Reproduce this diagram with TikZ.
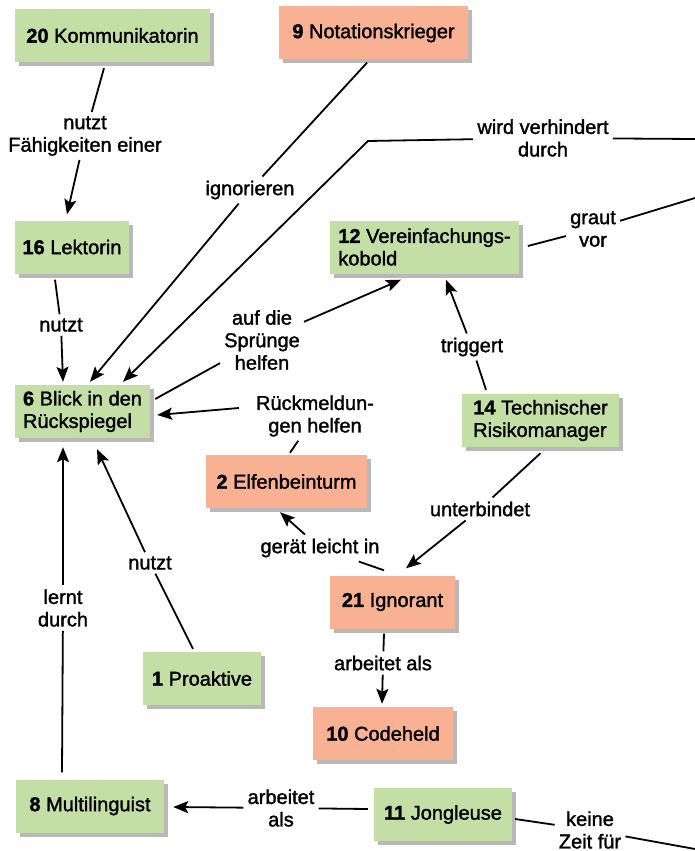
\documentclass[tikz,border=0pt]{standalone}
\usepackage{fontspec}
\setmainfont{Liberation Sans}[FakeBold=1.5]
\usetikzlibrary{arrows.meta,shadows}
\definecolor{cgreen}{RGB}{196,223,166}
\definecolor{csalmon}{RGB}{248,177,146}
\tikzset{
  txt/.style={font=\fontsize{20}{22.5}\selectfont},
  box/.style={txt, minimum height=53pt, inner xsep=8pt, inner ysep=2pt, align=left,
    drop shadow={shadow xshift=4pt,shadow yshift=-4pt,fill=black,opacity=0.28}},
  gbox/.style={box, fill=cgreen},
  sbox/.style={box, fill=csalmon},
  lbl/.style={txt, align=center, inner sep=4pt},
  conn/.style={line width=1.8pt},
  arr/.style={conn, -{Stealth[length=15pt,width=12pt,inset=3pt]}},
}
\begin{document}
\begin{tikzpicture}[x=1pt,y=-1pt]
\useasboundingbox[fill=white] (0,0) rectangle (695,851);
% nodes
\node[gbox, minimum width=195pt] (n20) at (112.5,35.5) {\textbf{20} Kommunikatorin};
\node[sbox, minimum width=189pt] (n9) at (373.5,33) {\textbf{9} Notationskrieger};
\node[gbox, minimum width=114pt] (n16) at (72,247) {\textbf{16} Lektorin};
\node[gbox, minimum width=183pt] (n12) at (424.5,247) {\textbf{12} Vereinfachungs-\\kobold};
\node[gbox, minimum width=135pt] (n6) at (82.5,411.5) {\textbf{6} Blick in den\\Rückspiegel};
\node[sbox, minimum width=161pt] (n2) at (286.5,481.5) {\textbf{2} Elfenbeinturm};
\node[gbox, minimum width=157pt] (n14) at (540.5,420.5) {\textbf{14} Technischer\\Risikomanager};
\node[sbox, minimum width=125pt] (n21) at (392.5,602) {\textbf{21} Ignorant};
\node[gbox, minimum width=118pt] (n1) at (202,678.5) {\textbf{1} Proaktive};
\node[sbox, minimum width=140pt] (n10) at (383,733.5) {\textbf{10} Codeheld};
\node[gbox, minimum width=148pt] (n8) at (90,806) {\textbf{8} Multilinguist};
\node[gbox, minimum width=138pt] (n11) at (443,814.5) {\textbf{11} Jongleuse};
% labels
\node[lbl] (l1) at (85,136) {nutzt\\Fähigkeiten einer};
\node[lbl] (l2) at (61,325) {nutzt};
\node[lbl] (l3) at (250,190) {ignorieren};
\node[lbl] (l4) at (543,138) {wird verhindert\\durch};
\node[lbl] (l5) at (593,229) {graut\\vor};
\node[lbl] (l6) at (262,340) {auf die\\Sprünge\\helfen};
\node[lbl] (l7) at (472,347) {triggert};
\node[lbl] (l8) at (315,416) {Rückmeldun-\\gen helfen};
\node[lbl] (l9) at (320,548) {gerät leicht in};
\node[lbl] (l10) at (480,509) {unterbindet};
\node[lbl] (l11) at (150,563) {nutzt};
\node[lbl] (l12) at (63,608) {lernt\\durch};
\node[lbl] (l13) at (383,663) {arbeitet als};
\node[lbl] (l14) at (281,808) {arbeitet\\als};
\node[lbl] (l15) at (590,830) {keine\\Zeit für};
% free ends
\coordinate (e4) at (695,139);
\coordinate (c4) at (368,141);
\coordinate (e5) at (695,198);
\coordinate (e15) at (695,849);
% connectors
\draw[conn] ([xshift=-8.5pt,yshift=-6pt]n20.south) -- (l1);
\draw[arr] (l1) -- ([xshift=-5pt,yshift=6pt]n16.north);
\draw[conn] ([xshift=-17pt,yshift=-6pt]n16.south) -- (l2);
\draw[arr] (l2) -- ([xshift=-19.5pt,yshift=3pt]n6.north);
\draw[conn] ([xshift=-6.5pt,yshift=-3pt]n9.south) -- (l3);
\draw[arr] (l3) -- ([xshift=7.5pt,yshift=3pt]n6.north);
\draw[conn] (e4) -- (l4);
\draw[arr] (l4) -- (c4) -- ([xshift=40.5pt,yshift=3pt]n6.north);
\draw[conn] (e5) -- (l5);
\draw[conn] (l5) -- ([xshift=9pt,yshift=1pt]n12.east);
\draw[conn] ([xshift=5pt,yshift=12.5pt]n6.east) -- (l6);
\draw[arr] (l6) -- ([xshift=-23.5pt,yshift=-6pt]n12.south);
\draw[conn] ([xshift=-54.5pt,yshift=4pt]n14.north) -- (l7);
\draw[arr] (l7) -- ([xshift=21.5pt,yshift=-6pt]n12.south);
\draw[conn] ([xshift=3.5pt,yshift=2pt]n2.north) -- (l8);
\draw[arr] ([xshift=-13pt,yshift=8pt]l8.west) -- ([xshift=7pt,yshift=-3.5pt]n6.east);
\draw[conn] ([xshift=-8.5pt,yshift=5pt]n21.north) -- (l9);
\draw[arr] (l9) -- ([xshift=-6.5pt,yshift=-4pt]n2.south);
\draw[conn] ([yshift=-6pt]n14.south) -- (l10);
\draw[arr] (l10) -- ([xshift=13.5pt,yshift=7pt]n21.north);
\draw[conn] ([xshift=-9pt,yshift=3pt]n1.north) -- (l11);
\draw[arr] (l11) -- ([xshift=14.5pt,yshift=-11pt]n6.south);
\draw[conn] ([xshift=-28pt,yshift=7pt]n8.north) -- (l12);
\draw[arr] (l12) -- ([xshift=-19.5pt,yshift=-9pt]n6.south);
\draw[conn] ([xshift=-8.5pt,yshift=-5pt]n21.south) -- (l13);
\draw[arr] (l13) -- ([xshift=-1pt,yshift=3pt]n10.north);
\draw[conn] ([xshift=-6pt,yshift=5.5pt]n11.west) -- (l14);
\draw[arr] (l14) -- ([xshift=9pt,yshift=-1pt]n8.east);
\draw[conn] ([xshift=3pt,yshift=-4.5pt]n11.east) -- (l15);
\draw[conn] (l15) -- (e15);
\end{tikzpicture}
\end{document}
